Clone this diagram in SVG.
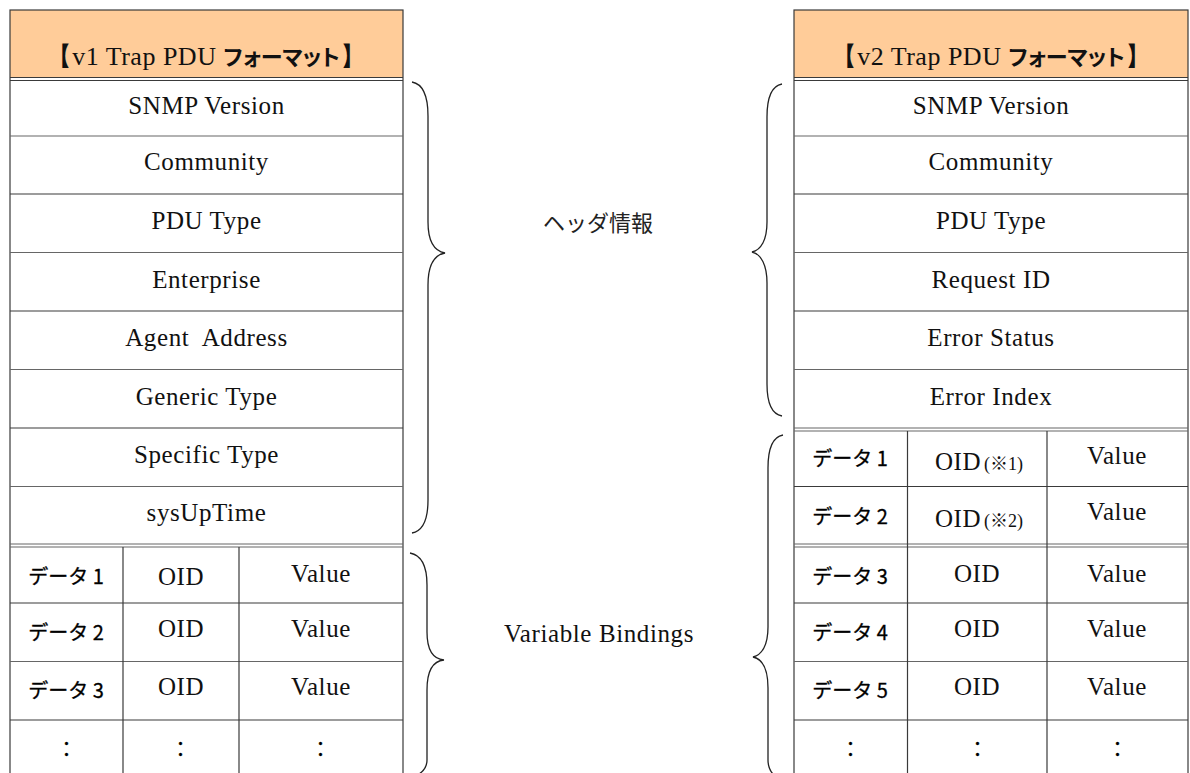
<svg xmlns="http://www.w3.org/2000/svg" width="1190" height="773" viewBox="0 0 1190 773">
<style>
.bg{fill:#ffffff}
.hdr{fill:#FFCC99;stroke:none}
.ln{stroke:#3a3a3a;stroke-width:1.2;fill:none}
.lg{stroke:#666;stroke-width:1.2;fill:none}
.t{font-family:"Liberation Serif","DejaVu Serif",serif;font-size:25px;letter-spacing:0.6px;fill:#111;text-anchor:middle}
.th{font-family:"Liberation Serif","DejaVu Serif",serif;font-size:26px;letter-spacing:0.5px;fill:#111;text-anchor:middle}
.kb{font-family:"Noto Sans CJK JP",sans-serif;font-weight:bold;font-feature-settings:"palt";letter-spacing:0}
.j{font-family:"Noto Sans CJK JP","Noto Sans",sans-serif;font-size:20px;font-weight:normal;fill:#000;text-anchor:middle;stroke:#000;stroke-width:0.3}
.note{font-family:"Liberation Serif","Noto Sans CJK JP",serif;font-size:18px;letter-spacing:0}
.lab{font-family:"Noto Sans CJK JP",sans-serif;font-size:22px;fill:#222;text-anchor:middle}
.br{stroke:#222;stroke-width:1.3;fill:none}
</style>
<rect class="bg" x="0" y="0" width="1190" height="773"/>

<g id="v1-table">
  <g id="v1-header">
    <rect class="hdr" x="10" y="10" width="393" height="67.5"/>
    <text class="th" x="206" y="65">【v1 Trap PDU <tspan class="kb" font-size="22">フォーマット</tspan>】</text>
  </g>
  <g id="v1-lines">
    <rect class="ln" x="10" y="10" width="393" height="780"/>
    <line class="ln" x1="10" y1="77.5" x2="403" y2="77.5"/>
    <line class="ln" x1="10" y1="80.5" x2="403" y2="80.5"/>
    <line class="lg" x1="10" y1="136" x2="403" y2="136"/>
    <line class="ln" x1="10" y1="194" x2="403" y2="194"/>
    <line class="lg" x1="10" y1="252.5" x2="403" y2="252.5"/>
    <line class="ln" x1="10" y1="311" x2="403" y2="311"/>
    <line class="lg" x1="10" y1="369.5" x2="403" y2="369.5"/>
    <line class="ln" x1="10" y1="428" x2="403" y2="428"/>
    <line class="lg" x1="10" y1="486.5" x2="403" y2="486.5"/>
    <line class="lg" x1="10" y1="544" x2="403" y2="544"/>
    <line class="lg" x1="10" y1="547" x2="403" y2="547"/>
    <line class="ln" x1="10" y1="603" x2="403" y2="603"/>
    <line class="lg" x1="10" y1="661.5" x2="403" y2="661.5"/>
    <line class="ln" x1="10" y1="720" x2="403" y2="720"/>
    <line class="ln" x1="123" y1="547" x2="123" y2="780"/>
    <line class="ln" x1="239" y1="547" x2="239" y2="780"/>
  </g>
  <g id="v1-snmp-version"><text class="t" x="206.5" y="114">SNMP Version</text></g>
  <g id="v1-community"><text class="t" x="206.5" y="170">Community</text></g>
  <g id="v1-pdu-type"><text class="t" x="206.5" y="229">PDU Type</text></g>
  <g id="v1-enterprise"><text class="t" x="206.5" y="288">Enterprise</text></g>
  <g id="v1-agent-address"><text class="t" x="206.5" y="346" xml:space="preserve">Agent  Address</text></g>
  <g id="v1-generic-type"><text class="t" x="206.5" y="405">Generic Type</text></g>
  <g id="v1-specific-type"><text class="t" x="206.5" y="463">Specific Type</text></g>
  <g id="v1-sysuptime"><text class="t" x="206.5" y="521">sysUpTime</text></g>
  <g id="v1-data1">
    <text class="j" x="66" y="584">データ 1</text>
    <text class="t" x="181" y="585">OID</text>
    <text class="t" x="321" y="582">Value</text>
  </g>
  <g id="v1-data2">
    <text class="j" x="66" y="640">データ 2</text>
    <text class="t" x="181" y="637">OID</text>
    <text class="t" x="321" y="637">Value</text>
  </g>
  <g id="v1-data3">
    <text class="j" x="66" y="698">データ 3</text>
    <text class="t" x="181" y="695">OID</text>
    <text class="t" x="321" y="695">Value</text>
  </g>
  <g id="v1-more">
    <text class="j" x="66.5" y="757">：</text>
    <text class="j" x="180.5" y="757">：</text>
    <text class="j" x="320.5" y="757">：</text>
  </g>
</g>

<g id="v2-table">
  <g id="v2-header">
    <rect class="hdr" x="794" y="10" width="394" height="67.5"/>
    <text class="th" x="991" y="65">【v2 Trap PDU <tspan class="kb" font-size="22">フォーマット</tspan>】</text>
  </g>
  <g id="v2-lines">
    <rect class="ln" x="794" y="10" width="394" height="780"/>
    <line class="ln" x1="794" y1="77.5" x2="1188" y2="77.5"/>
    <line class="ln" x1="794" y1="80.5" x2="1188" y2="80.5"/>
    <line class="lg" x1="794" y1="136" x2="1188" y2="136"/>
    <line class="ln" x1="794" y1="194" x2="1188" y2="194"/>
    <line class="lg" x1="794" y1="252.5" x2="1188" y2="252.5"/>
    <line class="ln" x1="794" y1="311" x2="1188" y2="311"/>
    <line class="lg" x1="794" y1="369.5" x2="1188" y2="369.5"/>
    <line class="lg" x1="794" y1="428" x2="1188" y2="428"/>
    <line class="lg" x1="794" y1="431" x2="1188" y2="431"/>
    <line class="ln" x1="794" y1="486.5" x2="1188" y2="486.5"/>
    <line class="lg" x1="794" y1="544" x2="1188" y2="544"/>
    <line class="lg" x1="794" y1="547" x2="1188" y2="547"/>
    <line class="ln" x1="794" y1="603" x2="1188" y2="603"/>
    <line class="lg" x1="794" y1="661.5" x2="1188" y2="661.5"/>
    <line class="ln" x1="794" y1="720" x2="1188" y2="720"/>
    <line class="ln" x1="907.5" y1="431" x2="907.5" y2="780"/>
    <line class="ln" x1="1047" y1="431" x2="1047" y2="780"/>
  </g>
  <g id="v2-snmp-version"><text class="t" x="991" y="114">SNMP Version</text></g>
  <g id="v2-community"><text class="t" x="991" y="170">Community</text></g>
  <g id="v2-pdu-type"><text class="t" x="991" y="229">PDU Type</text></g>
  <g id="v2-request-id"><text class="t" x="991" y="288">Request ID</text></g>
  <g id="v2-error-status"><text class="t" x="991" y="346">Error Status</text></g>
  <g id="v2-error-index"><text class="t" x="991" y="405">Error Index</text></g>
  <g id="v2-data1">
    <text class="j" x="850" y="466">データ 1</text>
    <text class="t" x="979" y="470">OID<tspan class="note" dx="3">(※1)</tspan></text>
    <text class="t" x="1117" y="464">Value</text>
  </g>
  <g id="v2-data2">
    <text class="j" x="850" y="524">データ 2</text>
    <text class="t" x="979" y="527">OID<tspan class="note" dx="3">(※2)</tspan></text>
    <text class="t" x="1117" y="520">Value</text>
  </g>
  <g id="v2-data3">
    <text class="j" x="850" y="584">データ 3</text>
    <text class="t" x="977" y="582">OID</text>
    <text class="t" x="1117" y="582">Value</text>
  </g>
  <g id="v2-data4">
    <text class="j" x="850" y="640">データ 4</text>
    <text class="t" x="977" y="637">OID</text>
    <text class="t" x="1117" y="637">Value</text>
  </g>
  <g id="v2-data5">
    <text class="j" x="850" y="698">データ 5</text>
    <text class="t" x="977" y="695">OID</text>
    <text class="t" x="1117" y="695">Value</text>
  </g>
  <g id="v2-more">
    <text class="j" x="850.5" y="757">：</text>
    <text class="j" x="977.5" y="757">：</text>
    <text class="j" x="1117.5" y="757">：</text>
  </g>
</g>

<g id="label-header"><text class="lab" x="598" y="231">ヘッダ情報</text></g>
<g id="label-varbind"><text class="t" x="599" y="642">Variable Bindings</text></g>

<g id="connectors">
  <path class="br" d="M412,82 C423,84 428,96 428,116 L428,222 C428,241 434,251 445,253 C434,255 428,266 428,285 L428,500 C428,520 423,531 412,533"/>
  <path class="br" d="M410,553 C421,555 427,566 427,585 L427,632 C427,650 433,659 444,660 C433,661 427,671 427,690 L427,760 C427,770 420,775 410,778"/>
  <path class="br" d="M782,84 C771,86 767,98 767,117 L767,222 C767,240 761,250 752,252 C761,254 767,265 767,283 L767,384 C767,403 771,414 782,416"/>
  <path class="br" d="M783,435 C772,437 768,449 768,468 L768,627 C768,645 762,655 753,657 C762,659 768,669 768,688 L768,760 C768,770 773,776 781,780"/>
</g>
</svg>
